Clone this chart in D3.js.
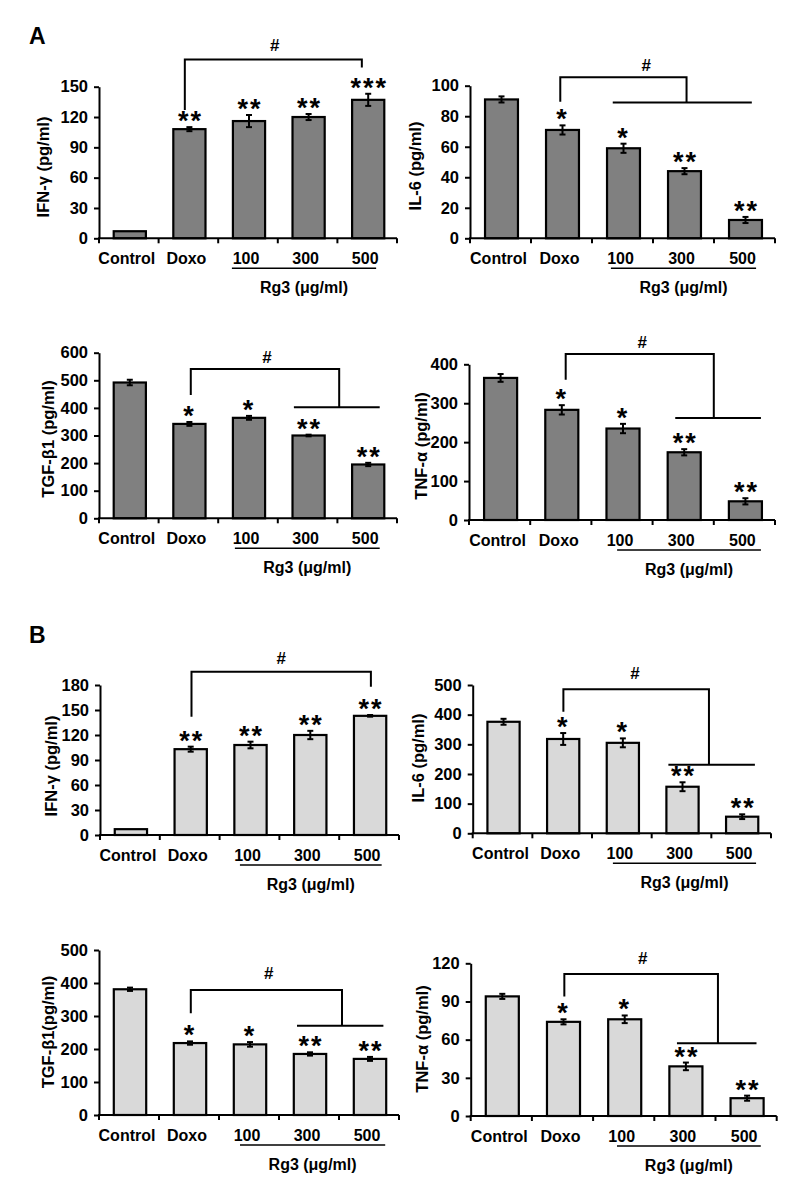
<!DOCTYPE html>
<html><head><meta charset="utf-8">
<script src="https://cdn.jsdelivr.net/npm/d3@7"></script>
<style>
body{margin:0;background:#fff;}
svg text{font-family:"Liberation Sans",Arial,sans-serif;font-weight:bold;fill:#000;}
</style></head>
<body><svg id="c" width="799" height="1192"></svg>
<script>
// ---------- DATA ----------
const categories = ["Control", "Doxo", "100", "300", "500"];
const groupLabel = "Rg3 (μg/ml)";

const aIfnValues = [7, 108, 116, 120, 137];
const aIfnErrors = [0.5, 2, 6, 3, 6];
const aIfnStars  = ["", "**", "**", "**", "***"];
const aIfnTicks  = [0, 30, 60, 90, 120, 150];

const aIl6Values = [91, 71, 59, 44, 12];
const aIl6Errors = [2, 3, 3, 2, 2];
const aIl6Stars  = ["", "*", "*", "**", "**"];
const aIl6Ticks  = [0, 20, 40, 60, 80, 100];

const aTgfValues = [492, 342, 364, 300, 195];
const aTgfErrors = [10, 7, 7, 3, 6];
const aTgfStars  = ["", "*", "*", "**", "**"];
const aTgfTicks  = [0, 100, 200, 300, 400, 500, 600];

const aTnfValues = [365, 283, 235, 174, 48];
const aTnfErrors = [10, 12, 12, 8, 8];
const aTnfStars  = ["", "*", "*", "**", "**"];
const aTnfTicks  = [0, 100, 200, 300, 400];

const bIfnValues = [7, 103, 108, 120, 143];
const bIfnErrors = [0.5, 3, 4, 5, 1];
const bIfnStars  = ["", "**", "**", "**", "**"];
const bIfnTicks  = [0, 30, 60, 90, 120, 150, 180];

const bIl6Values = [376, 318, 305, 157, 56];
const bIl6Errors = [10, 20, 15, 15, 8];
const bIl6Stars  = ["", "*", "*", "**", "**"];
const bIl6Ticks  = [0, 100, 200, 300, 400, 500];

const bTgfValues = [381, 218, 214, 185, 170];
const bTgfErrors = [5, 5, 7, 5, 6];
const bTgfStars  = ["", "*", "*", "**", "**"];
const bTgfTicks  = [0, 100, 200, 300, 400, 500];

const bTnfValues = [94, 74, 76, 39, 14];
const bTnfErrors = [2, 2, 3, 3, 2];
const bTnfStars  = ["", "*", "*", "**", "**"];
const bTnfTicks  = [0, 30, 60, 90, 120];

// ---------- LAYOUT ----------
const fillA = "#808080", fillB = "#d9d9d9";
const panels = [
  {title:"IFN-γ (pg/ml)", v:aIfnValues, e:aIfnErrors, s:aIfnStars, t:aIfnTicks, fill:fillA,
   x0:99, x1:397, y0:238.3, y1:86.7, lx:-56, ly:167,
   br:{top:177, lb:127, rx:4.41, rb:169, lx:1.44, hx:2.95, line:null}, ul:[2.23,4.65], hashOff:14},
  {title:"IL-6 (pg/ml)", v:aIl6Values, e:aIl6Errors, s:aIl6Stars, t:aIl6Ticks, fill:fillA,
   x0:470, x1:775, y0:238.3, y1:85.7, lx:-55, ly:166,
   br:{top:105.5, lb:89.5, rx:3.55, rb:89, lx:1.48, hx:2.89, line:[2.34,4.62]}, ul:[2.31,4.69], hashOff:12},
  {title:"TGF-β1 (pg/ml)", v:aTgfValues, e:aTgfErrors, s:aTgfStars, t:aTgfTicks, fill:fillA,
   x0:99, x1:397, y0:518.3, y1:352.7, lx:-51, ly:439,
   br:{top:541, lb:447, rx:4.03, rb:402, lx:1.54, hx:2.82, line:[3.27,4.71]}, ul:[2.28,4.71], hashOff:12},
  {title:"TNF-α (pg/ml)", v:aTnfValues, e:aTnfErrors, s:aTnfStars, t:aTnfTicks, fill:fillA,
   x0:469, x1:775, y0:520, y1:364.3, lx:-48, ly:446,
   br:{top:426.5, lb:360, rx:4.0, rb:262, lx:1.58, hx:2.83, line:[3.37,4.77]}, ul:[2.42,4.77], hashOff:12},
  {title:"IFN-γ (pg/ml)", v:bIfnValues, e:bIfnErrors, s:bIfnStars, t:bIfnTicks, fill:fillB,
   x0:100, x1:399, y0:835, y1:685, lx:-49, ly:766,
   br:{top:196, lb:142, rx:4.53, rb:178, lx:1.53, hx:3.03, line:null}, ul:[2.34,4.71], hashOff:14},
  {title:"IL-6 (pg/ml)", v:bIl6Values, e:bIl6Errors, s:bIl6Stars, t:bIl6Ticks, fill:fillB,
   x0:472.7, x1:771, y0:833.3, y1:685, lx:-55, ly:758,
   br:{top:486, lb:410, rx:3.96, rb:231, lx:1.52, hx:2.72, line:[3.28,4.73]}, ul:[2.35,4.75], hashOff:16},
  {title:"TGF-β1(pg/ml)", v:bTgfValues, e:bTgfErrors, s:bTgfStars, t:bTgfTicks, fill:fillB,
   x0:99, x1:399, y0:1115, y1:950, lx:-51, ly:1032,
   br:{top:379, lb:308, rx:4.05, rb:270.6, lx:1.53, hx:2.83, line:[3.3,4.74]}, ul:[2.35,4.77], hashOff:17},
  {title:"TNF-α (pg/ml)", v:bTnfValues, e:bTnfErrors, s:bTnfStars, t:bTnfTicks, fill:fillB,
   x0:470.7, x1:776.7, y0:1116, y1:963.3, lx:-49, ly:1039,
   br:{top:111.6, lb:94, rx:4.04, rb:57.1, lx:1.53, hx:2.81, line:[3.37,4.67]}, ul:[2.39,4.74], hashOff:16}
];

const svg = d3.select("#c");
svg.append("text").attr("x", 29).attr("y", 44).style("font-size", "23px").text("A");
svg.append("text").attr("x", 29).attr("y", 643).style("font-size", "23px").text("B");

panels.forEach(p => {
  const g = svg.append("g");
  const x = d3.scaleBand().domain(categories).range([p.x0, p.x1]).padding(0);
  const y = d3.scaleLinear().domain([0, d3.max(p.t)]).range([p.y0, p.y1]);
  const xp = k => p.x0 + k * x.step();
  const bw = x.step() * 0.54;
  const cx = c => x(c) + x.step() / 2 + 1;

  // bars
  g.selectAll("rect").data(p.v).join("rect")
    .attr("x", (d, i) => cx(categories[i]) - bw / 2)
    .attr("y", d => y(d))
    .attr("width", bw)
    .attr("height", d => y(0) - y(d))
    .attr("fill", p.fill).attr("stroke", "#000").attr("stroke-width", 2.2);

  // error bars
  const eg = g.append("g").attr("stroke", "#000").attr("stroke-width", 2);
  p.v.forEach((d, i) => {
    const c = cx(categories[i]);
    const e = p.e[i];
    if (e < 1) return;
    eg.append("line").attr("x1", c).attr("x2", c).attr("y1", y(d - e)).attr("y2", y(d + e));
    eg.append("line").attr("x1", c - 3).attr("x2", c + 3).attr("y1", y(d + e)).attr("y2", y(d + e));
    eg.append("line").attr("x1", c - 3).attr("x2", c + 3).attr("y1", y(d - e)).attr("y2", y(d - e));
  });

  // stars
  g.selectAll("text.star").data(p.s).join("text").attr("class", "star")
    .attr("x", (d, i) => cx(categories[i]) + (d.length > 1 ? 1 : 0))
    .attr("y", (d, i) => y(p.v[i] + p.e[i]) + 3)
    .attr("text-anchor", "middle")
    .style("font-size", "27px").style("letter-spacing", "2px")
    .text(d => d);

  // y axis
  const ya = g.append("g").attr("transform", `translate(${p.x0},0)`)
    .call(d3.axisLeft(y).tickValues(p.t).tickSize(5).tickSizeOuter(0).tickPadding(6));
  ya.select(".domain").attr("stroke", "#000").attr("stroke-width", 2);
  ya.selectAll(".tick line").attr("stroke", "#000").attr("stroke-width", 2);
  ya.selectAll(".tick text").style("font-size", "16.5px").style("font-family", "Liberation Sans, Arial, sans-serif").style("font-weight", "bold").attr("fill", "#000");

  // x axis
  g.append("line").attr("x1", p.x0 - 1).attr("x2", p.x1).attr("y1", p.y0).attr("y2", p.y0)
    .attr("stroke", "#000").attr("stroke-width", 2);
  const bounds = categories.map(c => x(c)).concat([p.x1]);
  g.selectAll("line.xt").data(bounds).join("line").attr("class", "xt")
    .attr("x1", d => d).attr("x2", d => d).attr("y1", p.y0).attr("y2", p.y0 + 5)
    .attr("stroke", "#000").attr("stroke-width", 2);
  g.selectAll("text.cat").data(categories).join("text").attr("class", "cat")
    .attr("x", c => x(c) + x.step() / 2 - 2).attr("y", p.y0 + 26)
    .attr("text-anchor", "middle").style("font-size", "16px").text(c => c);

  // group underline and label
  const uy = p.y0 + 30;
  g.append("line").attr("x1", xp(p.ul[0])).attr("x2", xp(p.ul[1])).attr("y1", uy).attr("y2", uy)
    .attr("stroke", "#000").attr("stroke-width", 1.5);
  g.append("text").attr("x", (xp(p.ul[0]) + xp(p.ul[1])) / 2).attr("y", uy + 25)
    .attr("text-anchor", "middle").style("font-size", "16px").text(groupLabel);

  // y label
  g.append("text").attr("transform", `translate(${p.x0 + p.lx},${p.ly}) rotate(-90)`)
    .attr("text-anchor", "middle").attr("dominant-baseline", "central")
    .style("font-size", "16.5px").text(p.title);

  // bracket
  const b = p.br;
  const path = d3.path();
  path.moveTo(xp(b.lx), y(b.lb));
  path.lineTo(xp(b.lx), y(b.top));
  path.lineTo(xp(b.rx), y(b.top));
  path.lineTo(xp(b.rx), y(b.rb));
  if (b.line) {
    path.moveTo(xp(b.line[0]), y(b.rb));
    path.lineTo(xp(b.line[1]), y(b.rb));
  }
  g.append("path").attr("d", path.toString()).attr("fill", "none")
    .attr("stroke", "#000").attr("stroke-width", 2);
  g.append("text").attr("x", xp(b.hx)).attr("y", y(b.top) - p.hashOff + 6)
    .attr("text-anchor", "middle").style("font-size", "17px").text("#");
});
</script></body></html>
